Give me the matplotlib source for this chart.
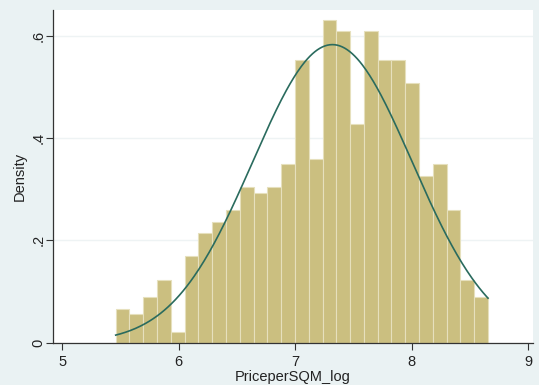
import numpy as np
import matplotlib
matplotlib.use("Agg")
import matplotlib.pyplot as plt

plt.rcParams['font.family'] = ['Liberation Sans', 'DejaVu Sans']

# Histogram data (density), 27 bins
bin_start = 5.459
bin_width = 0.1183
densities = [0.066, 0.055, 0.089, 0.123, 0.021, 0.169, 0.214, 0.236, 0.259,
             0.304, 0.293, 0.304, 0.349, 0.553, 0.360, 0.632, 0.609, 0.428,
             0.609, 0.553, 0.553, 0.508, 0.327, 0.349, 0.259, 0.123, 0.089]
# Normal fit parameters
mu = 7.318
sigma = 0.684
xticks = [5, 6, 7, 8, 9]
yticks = [0, 0.2, 0.4, 0.6]
ytick_labels = ["0", ".2", ".4", ".6"]

fig = plt.figure(figsize=(5.39, 3.85), dpi=100)
fig.patch.set_facecolor('#eaf2f3')
ax = fig.add_axes([0.0983, 0.109, 0.891, 0.865])
ax.set_facecolor('white')

n = len(densities)
lefts = bin_start + bin_width * np.arange(n)
ax.bar(lefts, densities, width=bin_width, align='edge', color='#cbbf80',
       edgecolor='#e6e0bd', linewidth=0.8, zorder=2)

xs = np.linspace(bin_start, bin_start + n * bin_width, 300)
ys = np.exp(-0.5 * ((xs - mu) / sigma) ** 2) / (sigma * np.sqrt(2 * np.pi))
ax.plot(xs, ys, color='#2a6b5e', linewidth=1.2, zorder=3)

ax.set_xlim(4.921, 9.041)
ax.set_ylim(-0.001, 0.651)
ax.set_xticks(xticks)
ax.set_yticks(yticks)
ax.set_yticklabels(ytick_labels, rotation=90, va='center')
ax.yaxis.grid(True, color='#eef3f4', linewidth=1.0, zorder=0)
ax.set_axisbelow(True)
for s in ['top', 'right']:
    ax.spines[s].set_visible(False)
for s in ['left', 'bottom']:
    ax.spines[s].set_color('#333333')
    ax.spines[s].set_linewidth(0.9)
ax.tick_params(direction='out', length=5, width=0.8, colors='#333333',
               labelsize=10.5, labelcolor='#222222')
ax.tick_params(axis='y', pad=0.5)
ax.set_xlabel('PriceperSQM_log', fontsize=10.5, color='#222222', labelpad=1)
ax.set_ylabel('Density', fontsize=10.5, color='#222222', labelpad=3)

fig.savefig('out.png', dpi=100, facecolor=fig.get_facecolor())
